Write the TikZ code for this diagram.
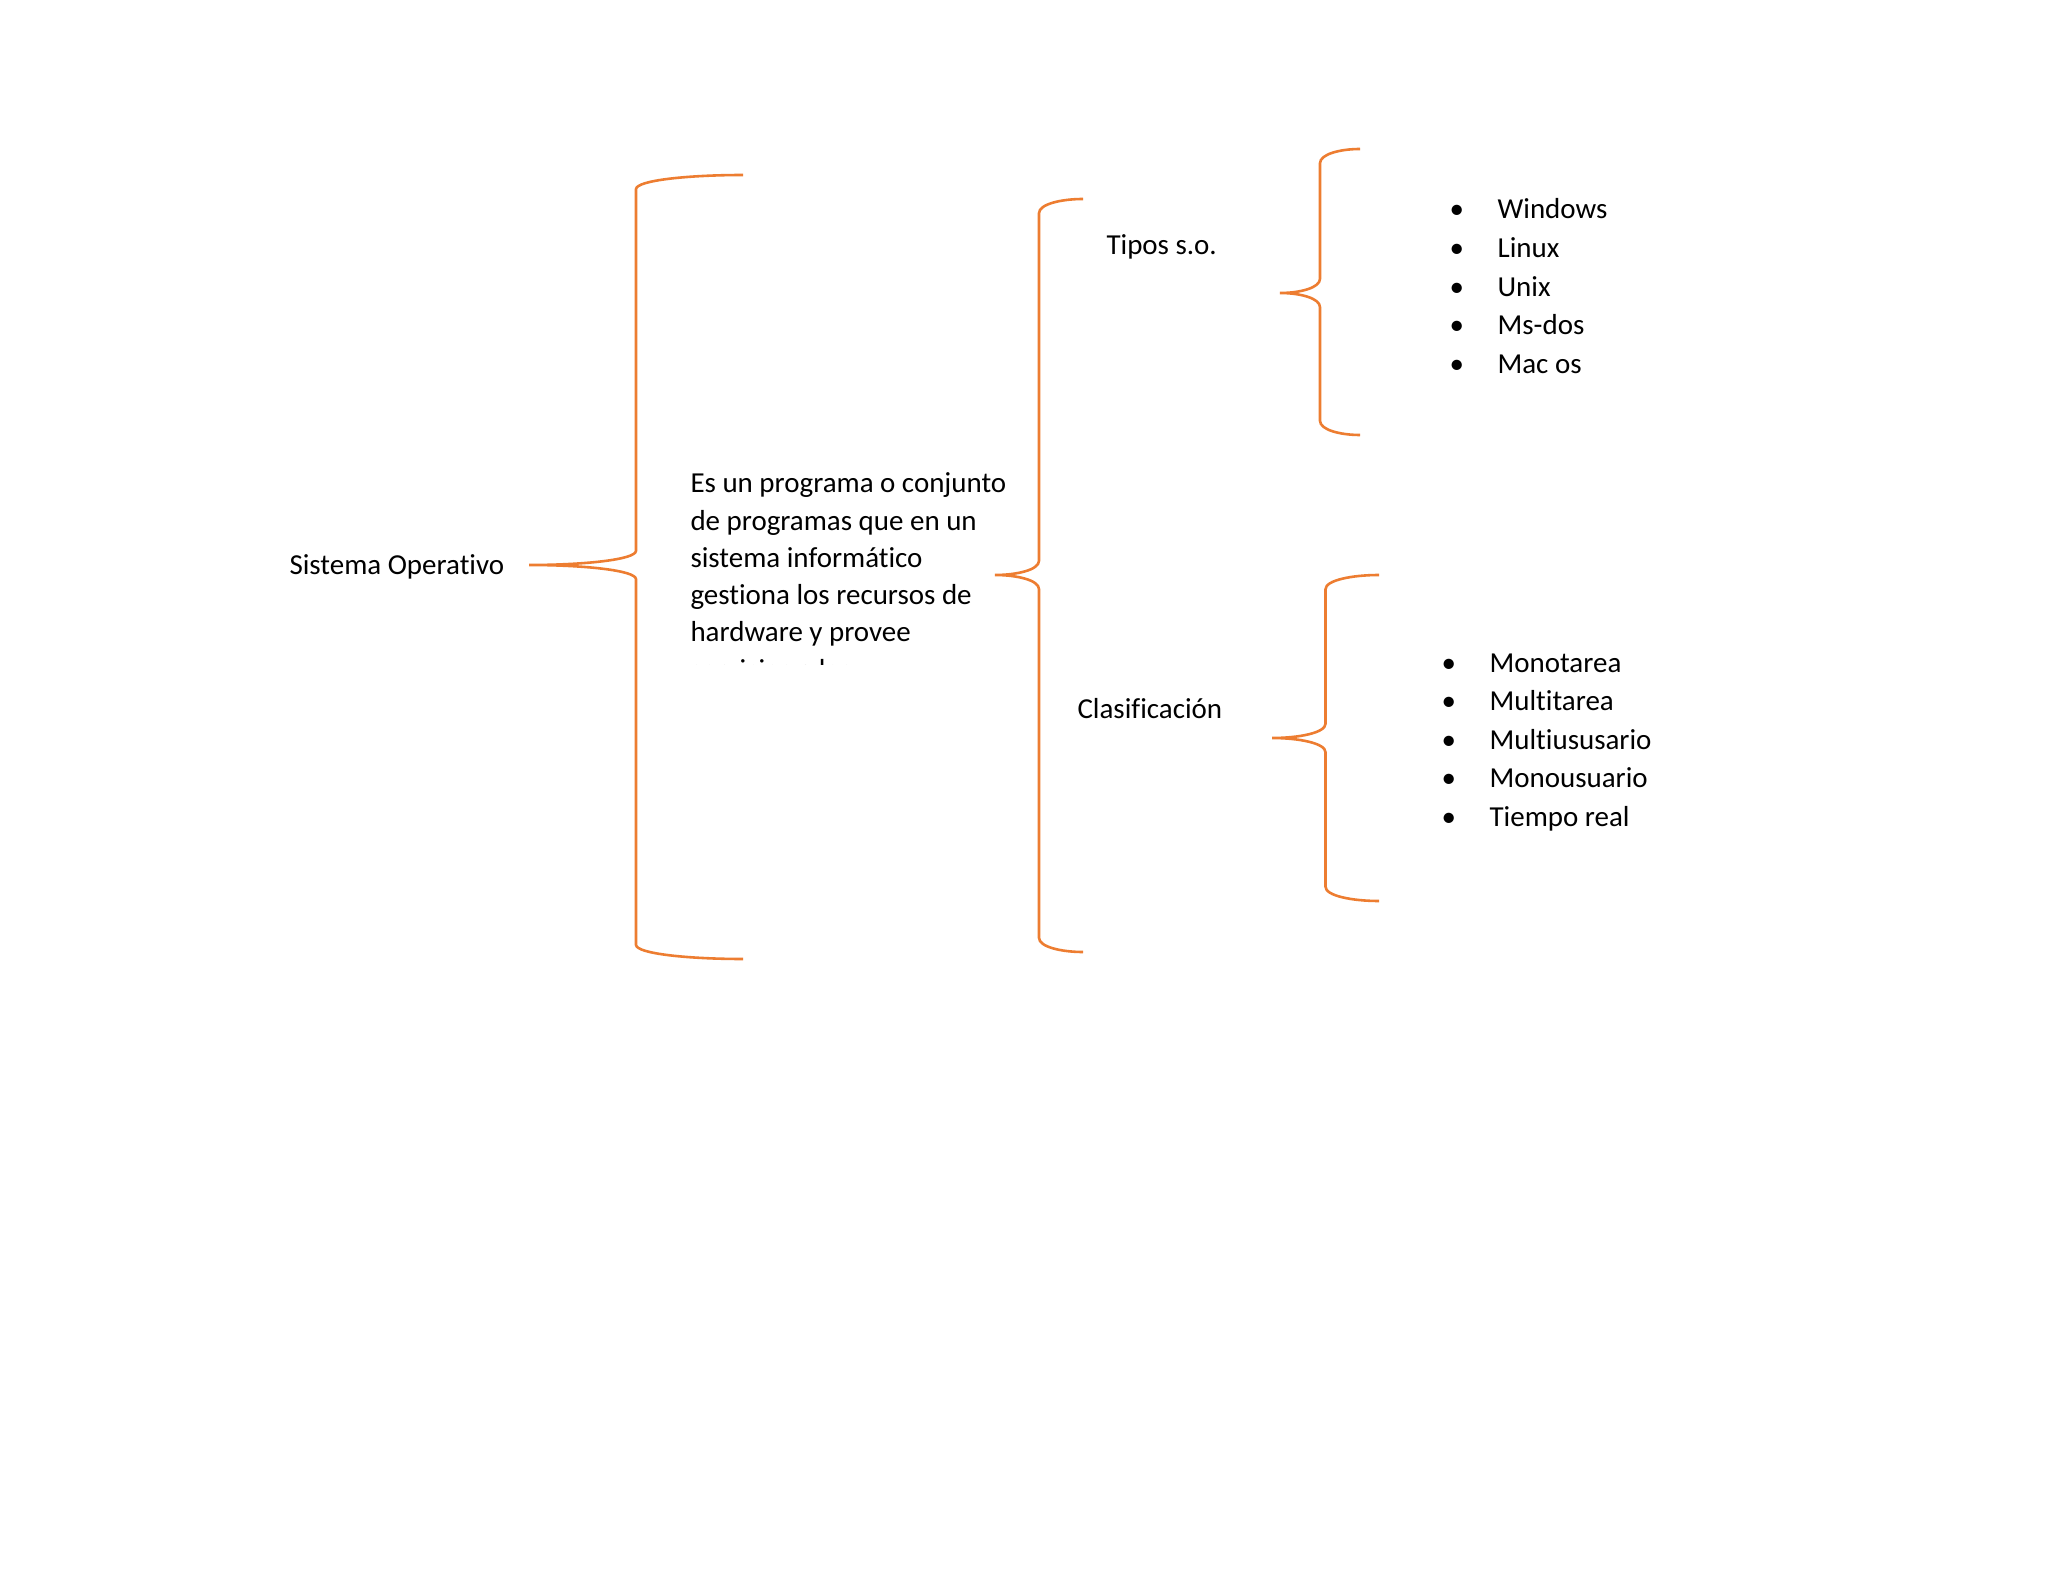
\documentclass[tikz,border=0pt]{standalone}
\usepackage{fontspec}
\setmainfont[Ligatures=NoCommon]{Carlito}
\usetikzlibrary{positioning,calc}
\definecolor{braceorange}{RGB}{237,125,49}

% curly brace: tip coordinate, top end, bottom end
\newcommand{\curlybrace}[3]{%
  \draw[brace] let \p1=(#1), \p2=(#2), \p3=(#3),
      \n1={(\x1+\x2)/2}, \n2={(\x2-\x1)/2} in
    (\p2) .. controls ({\n1+0.5*\n2},\y2) and (\n1,{\y2-2pt}) .. (\n1,{\y2-5.5pt})
    -- (\n1,{\y1+5.5pt}) .. controls (\n1,{\y1+2pt}) and ({\n1-0.5*\n2},\y1) .. (\p1)
    .. controls ({\n1-0.5*\n2},\y1) and (\n1,{\y1-2pt}) .. (\n1,{\y1-5.5pt})
    -- (\n1,{\y3+5.5pt}) .. controls (\n1,{\y3+2pt}) and ({\n1+0.5*\n2},\y3) .. (\p3);}

\begin{document}
\begin{tikzpicture}[
    x=0.38672pt, y=-0.38672pt,
    brace/.style={draw=braceorange,line width=1pt},
    txt/.style={inner sep=0pt,font=\fontsize{11.2}{14.4}\selectfont,anchor=base west},
    listitem/.style={inner sep=0pt,text height=8pt,text depth=2.5pt,font=\fontsize{11.2}{14.4}\selectfont},
]
\useasboundingbox[fill=white] (0,0) rectangle (2048,1582);

\node[txt] (so) at (289,574) {Sistema Operativo};
% text box is cut off at its lower edge
\begin{scope}
  \clip (680,440) rectangle (1010,664);
  \node[txt,align=left] (desc) at (690,679) {Es un programa o conjunto\\de programas que en un\\sistema informático\\gestiona los recursos de\\hardware y provee\\servicios a los};
\end{scope}
\node[txt] (tipos) at (1106,255) {Tipos s.o.};
\node[txt] (clas) at (1077,718) {Clasificación};

% tipos list
\node[listitem,anchor=base west] (win) at (1449,219) {\makebox[18.6pt][l]{\textbullet}Windows};
\node[listitem,below=4pt of win.south west,anchor=north west] (lin) {\makebox[18.6pt][l]{\textbullet}Linux};
\node[listitem,below=4pt of lin.south west,anchor=north west] (unix) {\makebox[18.6pt][l]{\textbullet}Unix};
\node[listitem,below=4pt of unix.south west,anchor=north west] (msdos) {\makebox[18.6pt][l]{\textbullet}Ms-dos};
\node[listitem,below=4pt of msdos.south west,anchor=north west] (mac) {\makebox[18.6pt][l]{\textbullet}Mac os};

% clasificacion list
\node[listitem,anchor=base west] (mono) at (1441,672) {\makebox[18.6pt][l]{\textbullet}Monotarea};
\node[listitem,below=4pt of mono.south west,anchor=north west] (multi) {\makebox[18.6pt][l]{\textbullet}Multitarea};
\node[listitem,below=4pt of multi.south west,anchor=north west] (multiu) {\makebox[18.6pt][l]{\textbullet}Multiususario};
\node[listitem,below=4pt of multiu.south west,anchor=north west] (monou) {\makebox[18.6pt][l]{\textbullet}Monousuario};
\node[listitem,below=4pt of monou.south west,anchor=north west] (treal) {\makebox[18.6pt][l]{\textbullet}Tiempo real};

% brace ends
\coordinate (so-tip) at (529,565);
\coordinate (so-top) at (743,175);
\coordinate (so-bot) at (743,959);
\coordinate (desc-tip) at (995,575);
\coordinate (desc-top) at (1083,199);
\coordinate (desc-bot) at (1083,952);
\coordinate (tipos-tip) at (1280,293);
\coordinate (tipos-top) at (1360,149);
\coordinate (tipos-bot) at (1360,435);
\coordinate (clas-tip) at (1272,738);
\coordinate (clas-top) at (1379,575);
\coordinate (clas-bot) at (1379,901);

\curlybrace{so-tip}{so-top}{so-bot}
\curlybrace{desc-tip}{desc-top}{desc-bot}
\curlybrace{tipos-tip}{tipos-top}{tipos-bot}
\curlybrace{clas-tip}{clas-top}{clas-bot}
\end{tikzpicture}
\end{document}
